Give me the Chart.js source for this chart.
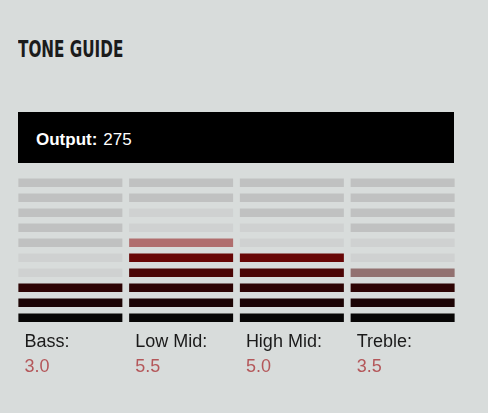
<!DOCTYPE html>
<html>
<head>
<meta charset="utf-8">
<script src="https://cdn.jsdelivr.net/npm/chart.js@4.4.1/dist/chart.umd.min.js"></script>
<style>
  html, body { margin: 0; padding: 0; width: 488px; height: 413px; overflow: hidden; background: #d8dcdb; }
  #title {
    position: absolute; left: 18px; top: 36px; margin: 0;
    font-family: "DejaVu Sans Condensed", "Liberation Sans", sans-serif;
    font-weight: bold; font-size: 23.5px; line-height: 26px; color: #1b1b1b;
    transform: scaleX(0.72); transform-origin: left center; white-space: nowrap;
  }
  #output {
    position: absolute; left: 18px; top: 112px; width: 436px; height: 51px;
    background: #000; color: #fff; box-sizing: border-box; padding-left: 18px; padding-top: 2px;
    font-family: "Liberation Sans", Arial, sans-serif; font-size: 17px; line-height: 51px; white-space: nowrap;
  }
  #output b { font-weight: bold; margin-right: 6px; }
  #chartBox { position: absolute; left: 15px; top: 172px; width: 443px; height: 213px; }
</style>
</head>
<body>
<div id="title">TONE GUIDE</div>
<div id="output"><b>Output:</b><span id="outVal"></span></div>
<div id="chartBox"><canvas id="c"></canvas></div>
<script>
// ---- data ----
const categories = ['Bass:', 'Low Mid:', 'High Mid:', 'Treble:'];
const values = [3.0, 5.5, 5.0, 3.5];
const valueLabels = ['3.0', '5.5', '5.0', '3.5'];
const outputValue = 275;
const levelCount = 10;

// ---- styles ----
const fillColors = ['rgb(8,6,6)', 'rgb(28,4,4)', 'rgb(45,4,4)', 'rgb(75,5,5)', 'rgb(103,6,6)',
                    'rgb(136,0,0)', 'rgb(165,0,0)', 'rgb(195,0,0)', 'rgb(220,0,0)', 'rgb(240,0,0)'];
const bg = [216, 220, 219];
const emptyDark = '#c0c1c1';
const emptyLight = '#cfd1d1';
const segFraction = 0.57;

document.getElementById('outVal').textContent = outputValue;

function halfColor(c) {
  const m = c.match(/\d+/g).map(Number);
  return 'rgb(' + m.map((v, i) => Math.round(v * 0.5 + bg[i] * 0.5)).join(',') + ')';
}
function segColor(level, v) {
  const full = Math.floor(v);
  const top = Math.ceil(v);
  if (level <= full) return fillColors[level - 1];
  if (level === top) return halfColor(fillColors[level - 1]);
  if (level > top && level <= top + 2) return emptyLight;
  return emptyDark;
}

const datasets = [];
for (let k = 0; k < levelCount; k++) {
  datasets.push({
    data: categories.map(() => [k, k + segFraction]),
    backgroundColor: values.map(v => segColor(k + 1, v)),
    borderWidth: 0,
    grouped: false,
    categoryPercentage: 1,
    barPercentage: 0.939
  });
}

const fitHeight = h => s => { s.height = h; s.paddingLeft = 0; s.paddingRight = 0; };

new Chart(document.getElementById('c'), {
  type: 'bar',
  data: { labels: categories, datasets },
  options: {
    responsive: true,
    maintainAspectRatio: false,
    animation: false,
    layout: { padding: 0 },
    plugins: { legend: { display: false }, tooltip: { enabled: false }, title: { display: false } },
    scales: {
      x: {
        type: 'category', labels: categories, offset: true,
        grid: { display: false, drawTicks: false }, border: { display: false },
        ticks: { align: 'start', labelOffset: -46, padding: 9, color: '#1a1a1a',
                 font: { family: 'Liberation Sans', size: 18 } },
        afterFit: fitHeight(33)
      },
      x2: {
        type: 'category', labels: valueLabels, position: 'bottom', offset: true,
        grid: { display: false, drawTicks: false }, border: { display: false },
        ticks: { align: 'start', labelOffset: -46, padding: 1, color: '#b4575a',
                 font: { family: 'Liberation Sans', size: 18 } },
        afterFit: fitHeight(30)
      },
      y: { display: false, min: 0, max: levelCount }
    }
  }
});
</script>
</body>
</html>
